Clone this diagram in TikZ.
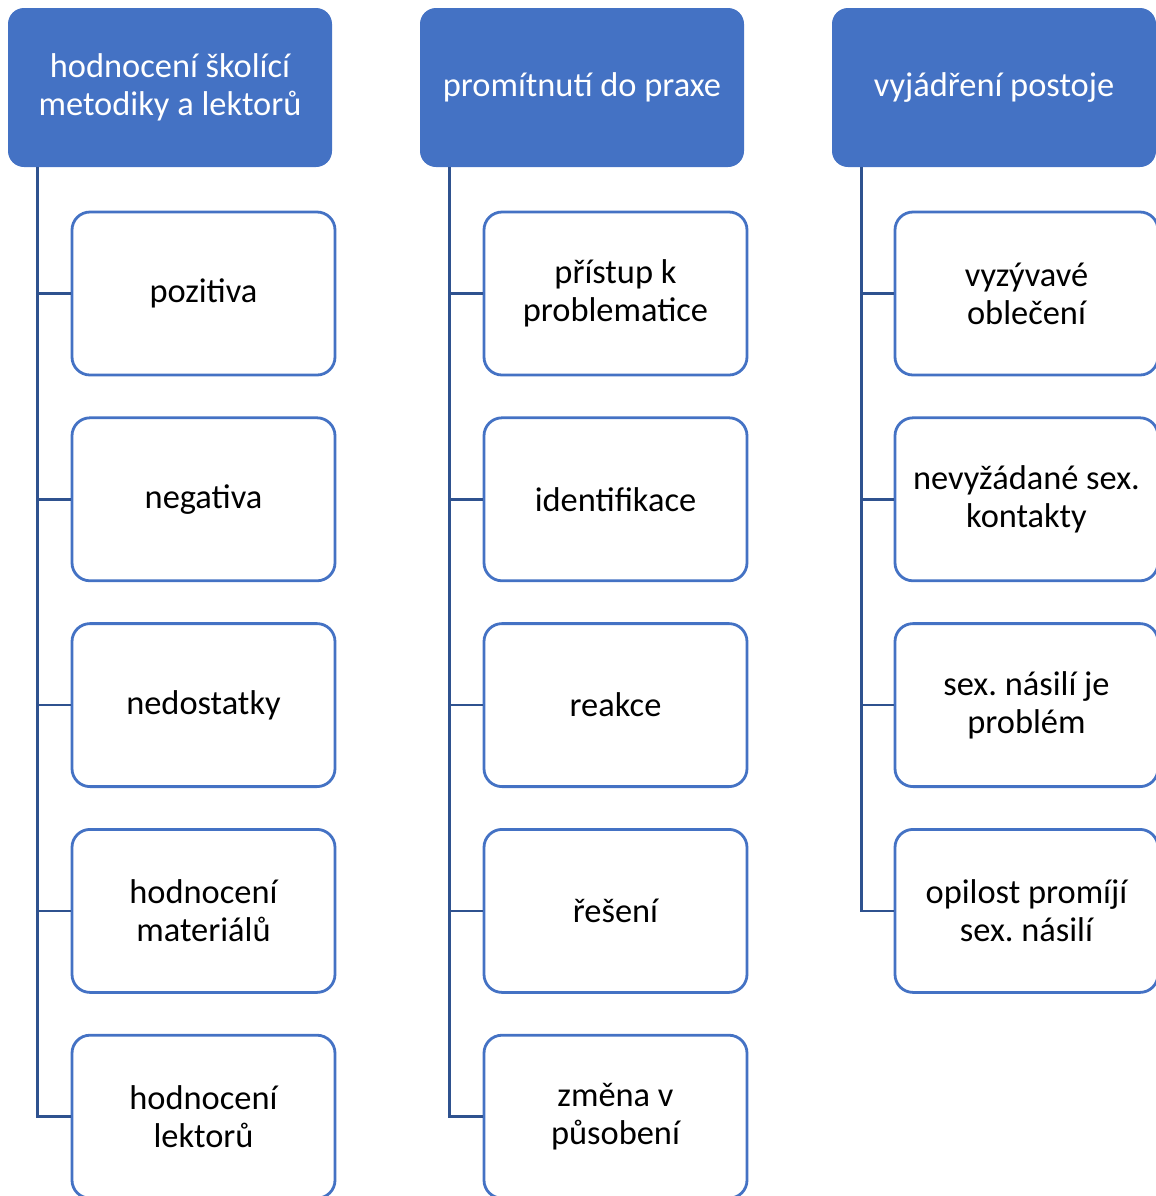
\documentclass[tikz,border=0pt]{standalone}
\usepackage{fontspec}
\setmainfont{Carlito}
\frenchspacing
\usetikzlibrary{positioning}
\definecolor{hdrblue}{HTML}{4472C4}
\definecolor{lineblue}{HTML}{2F528F}
\tikzset{
	header/.style={fill=hdrblue, text=white, rounded corners=8pt, minimum width=162pt, minimum height=79.5pt, align=center, font=\fontsize{17.2}{19}\selectfont},
	item/.style={draw=hdrblue, line width=1.4pt, fill=white, rounded corners=9pt, minimum width=131.5pt, minimum height=81.5pt, align=center, font=\fontsize{17.2}{19}\selectfont},
	conn/.style={draw=lineblue, line width=1.3pt}
}
\begin{document}
\begin{tikzpicture}[x=0.5pt, y=-0.5pt]
			\useasboundingbox (0,0) rectangle (1156,1196);
			
			% headers
			\node[header] (h1) at (170,87.5) {hodnocení školící\\metodiky a lektorů};
			\node[header] (h2) at (582,87.5) {promítnutí do praxe};
			\node[header] (h3) at (994,87.5) {vyjádření postoje};
			
			% first column
			\node[item] (a1) at (203.5,293.5) {pozitiva};
			\node[item, below=20pt of a1] (a2) {negativa};
			\node[item, below=20pt of a2] (a3) {nedostatky};
			\node[item, below=20pt of a3] (a4) {hodnocení\\materiálů};
			\node[item, below=20pt of a4] (a5) {hodnocení\\lektorů};
			
			% second column
			\node[item] (b1) at (615.5,293.5) {přístup k\\problematice};
			\node[item, below=20pt of b1] (b2) {identifikace};
			\node[item, below=20pt of b2] (b3) {reakce};
			\node[item, below=20pt of b3] (b4) {řešení};
			\node[item, below=20pt of b4] (b5) {změna v\\působení};
			
			% third column
			\node[item] (c1) at (1026.5,293.5) {vyzývavé\\oblečení};
			\node[item, below=20pt of c1] (c2) {nevyžádané sex.\\kontakty};
			\node[item, below=20pt of c2] (c3) {sex. násilí je\\problém};
			\node[item, below=20pt of c3] (c4) {opilost promíjí\\sex. násilí};
			
			% connectors
			\draw[conn] (h1.south west) ++(30,0) coordinate (t1) |- (a5.west);
			\draw[conn] (a1.west) -- (a1.west -| t1);
			\draw[conn] (a2.west) -- (a2.west -| t1);
			\draw[conn] (a3.west) -- (a3.west -| t1);
			\draw[conn] (a4.west) -- (a4.west -| t1);
			
			\draw[conn] (h2.south west) ++(30,0) coordinate (t2) |- (b5.west);
			\draw[conn] (b1.west) -- (b1.west -| t2);
			\draw[conn] (b2.west) -- (b2.west -| t2);
			\draw[conn] (b3.west) -- (b3.west -| t2);
			\draw[conn] (b4.west) -- (b4.west -| t2);
			
			\draw[conn] (h3.south west) ++(30,0) coordinate (t3) |- (c4.west);
			\draw[conn] (c1.west) -- (c1.west -| t3);
			\draw[conn] (c2.west) -- (c2.west -| t3);
			\draw[conn] (c3.west) -- (c3.west -| t3);
		\end{tikzpicture}
\end{document}
